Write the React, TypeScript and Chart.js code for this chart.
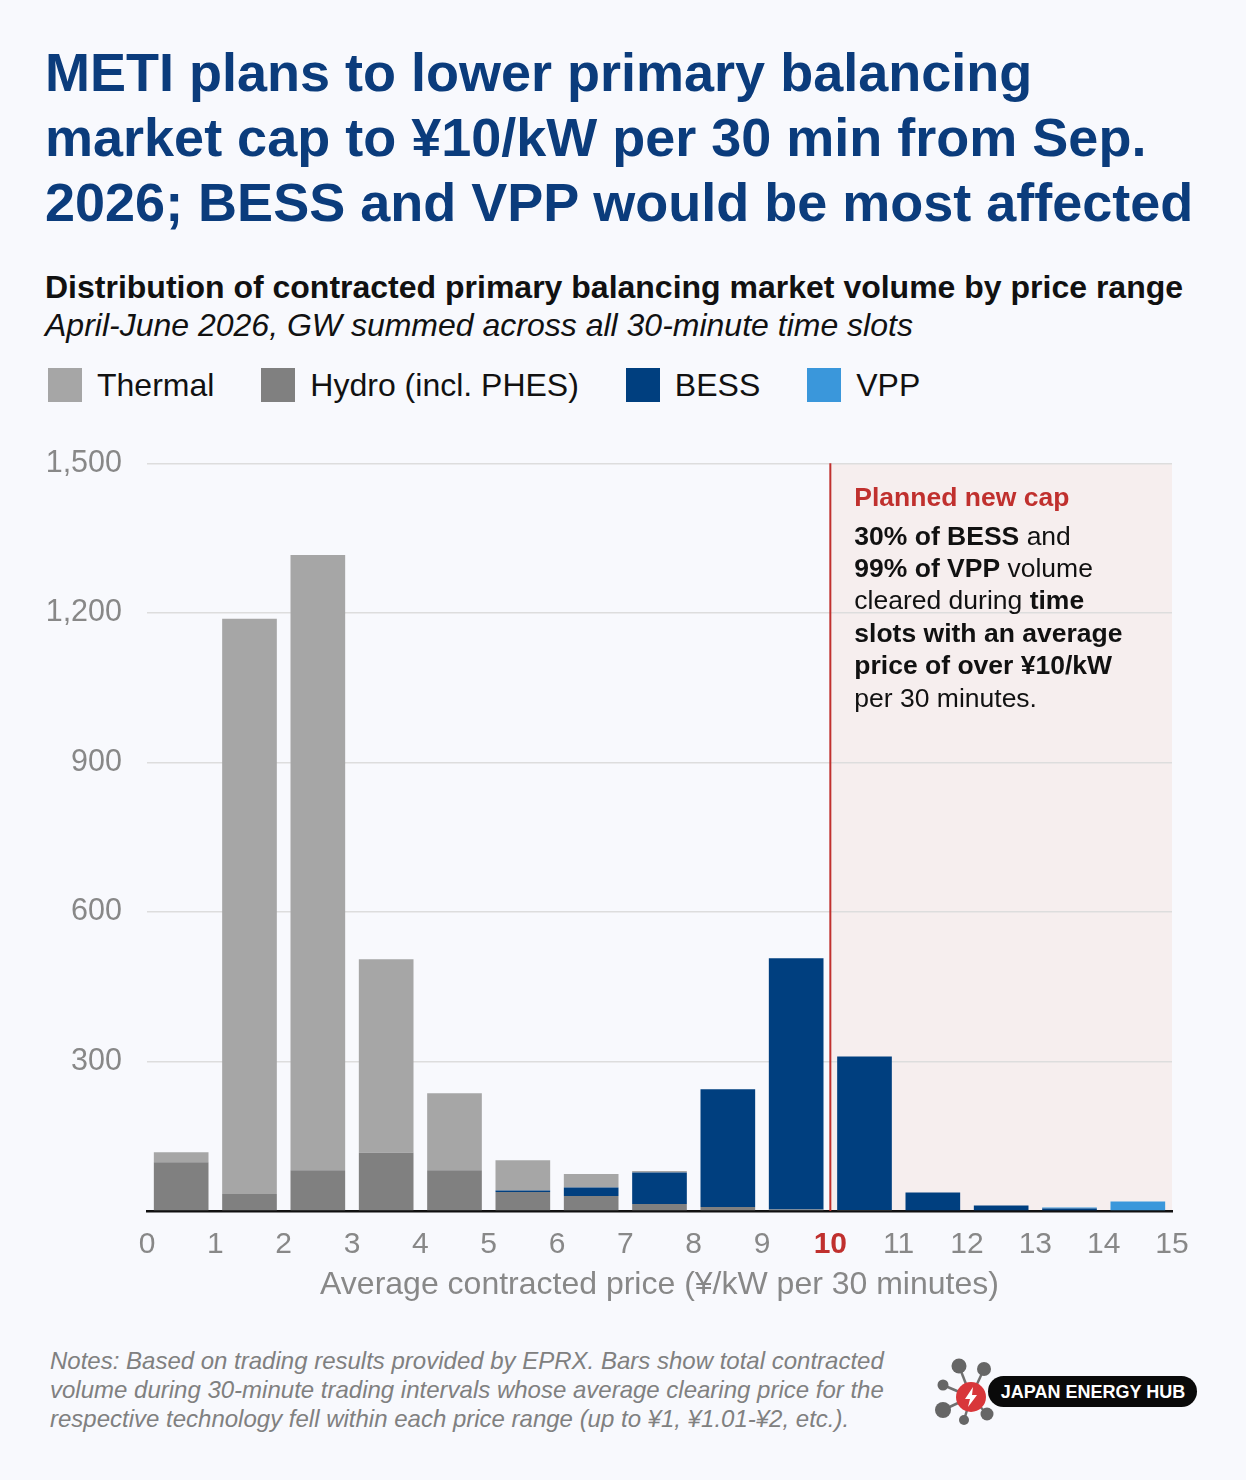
import React, { useEffect, useRef } from 'react';
import { Chart, registerables } from 'chart.js';

Chart.register(...registerables);

const FONT = "'Liberation Sans', Arial, Helvetica, sans-serif";
const RED = '#c0302e';
const GRAY_TEXT = '#888888';

// price ranges (¥/kW per 30 min)
const priceBins = ['0-1', '1-2', '2-3', '3-4', '4-5', '5-6', '6-7', '7-8', '8-9', '9-10', '10-11', '11-12', '12-13', '13-14', '14-15'];

// GW summed across all 30-min slots
const thermal = [20, 1154, 1234, 388, 154, 61, 27, 3, 0, 0, 0, 0, 0, 0, 0];
const hydro = [98, 34, 82, 117, 82, 38, 30, 14, 8, 3, 2, 0, 0, 0, 0];
const bess = [0, 0, 0, 0, 0, 3, 17, 63, 236, 504, 308, 37, 11, 5, 0];
const vpp = [0, 0, 0, 0, 0, 0, 0, 0, 0, 0, 0, 0, 0, 2, 19];

const seriesNames = ['Thermal', 'Hydro (incl. PHES)', 'BESS', 'VPP'];
const seriesColors = ['#a6a6a6', '#808080', '#003f7f', '#3a97db'];

const CAP_PRICE = 10;
const PRICE_MAX = 15;
const Y_MAX = 1500;
const Y_STEP = 300;

type Seg = { text: string; bold?: boolean; color?: string };
const noteLines: Seg[][] = [
  [{ text: '30% of BESS', bold: true }, { text: ' and' }],
  [{ text: '99% of VPP', bold: true }, { text: ' volume' }],
  [{ text: 'cleared during ' }, { text: 'time', bold: true }],
  [{ text: 'slots with an average', bold: true }],
  [{ text: 'price of over ¥10/kW', bold: true }],
  [{ text: 'per 30 minutes.' }],
];

const capPlugin = {
  id: 'capZone',
  beforeDraw(chart: any) {
    const { ctx, chartArea, scales } = chart;
    const x0 = scales.xp.getPixelForValue(CAP_PRICE);
    ctx.save();
    ctx.fillStyle = '#f6eeee';
    ctx.fillRect(x0, chartArea.top, chartArea.right - x0, chartArea.bottom - chartArea.top);
    ctx.restore();
  },
  afterDatasetsDraw(chart: any) {
    const { ctx, chartArea, scales } = chart;
    const x0 = scales.xp.getPixelForValue(CAP_PRICE);
    ctx.save();
    ctx.strokeStyle = RED;
    ctx.lineWidth = 2;
    ctx.beginPath();
    ctx.moveTo(x0, chartArea.top);
    ctx.lineTo(x0, chartArea.bottom);
    ctx.stroke();

    const tx = x0 + 24;
    ctx.textBaseline = 'middle';
    ctx.textAlign = 'left';
    ctx.font = `bold 26.5px ${FONT}`;
    ctx.fillStyle = RED;
    ctx.fillText('Planned new cap', tx, chartArea.top + 35);

    noteLines.forEach((line, i) => {
      let x = tx;
      const y = chartArea.top + 74 + i * 32.4;
      line.forEach((s) => {
        ctx.font = `${s.bold ? 'bold ' : ''}26.5px ${FONT}`;
        ctx.fillStyle = s.color || '#111111';
        ctx.fillText(s.text, x, y);
        x += ctx.measureText(s.text).width;
      });
    });
    ctx.restore();
  },
};

const BalancingChart: React.FC = () => {
  const canvasRef = useRef<HTMLCanvasElement>(null);

  useEffect(() => {
    if (!canvasRef.current) return;
    const ctx = canvasRef.current.getContext('2d');
    if (!ctx) return;

    const chart = new Chart(ctx, {
      type: 'bar',
      data: {
        labels: priceBins,
        datasets: [
          { label: seriesNames[1], data: hydro, backgroundColor: seriesColors[1] },
          { label: seriesNames[2], data: bess, backgroundColor: seriesColors[2] },
          { label: seriesNames[3], data: vpp, backgroundColor: seriesColors[3] },
          { label: seriesNames[0], data: thermal, backgroundColor: seriesColors[0] },
        ],
      },
      options: {
        responsive: false,
        animation: false,
        layout: { padding: { top: 0, right: 74, left: 0, bottom: 0 } },
        datasets: { bar: { categoryPercentage: 1, barPercentage: 0.8, borderWidth: 0 } },
        plugins: { legend: { display: false }, tooltip: { enabled: false } },
        scales: {
          x: { type: 'category', stacked: true, display: false },
          xp: {
            type: 'linear',
            position: 'bottom',
            min: 0,
            max: PRICE_MAX,
            offset: false,
            z: 1,
            afterFit: (s: any) => { s.height = 99; },
            grid: { display: false, offset: false },
            border: { display: true, color: '#111111', width: 2.5 },
            ticks: {
              stepSize: 1,
              autoSkip: false,
              maxRotation: 0,
              padding: 8,
              color: (c: any) => (c.tick && c.tick.value === CAP_PRICE ? RED : GRAY_TEXT),
              font: (c: any) => ({
                family: FONT,
                size: 30,
                weight: c.tick && c.tick.value === CAP_PRICE ? 'bold' : 'normal',
              }),
            },
            title: {
              display: true,
              text: 'Average contracted price (¥/kW per 30 minutes)',
              color: GRAY_TEXT,
              font: { family: FONT, size: 32 },
              padding: { top: 0, bottom: 6 },
            },
          },
          y: {
            stacked: true,
            min: 0,
            max: Y_MAX,
            afterFit: (s: any) => { s.width = 147; },
            grid: { color: '#dddddd', lineWidth: 1.5, drawTicks: false },
            border: { display: false },
            ticks: {
              stepSize: Y_STEP,
              padding: 25,
              color: GRAY_TEXT,
              font: { family: FONT, size: 30.5 },
              callback: (v: any) => (v === 0 ? '' : Number(v).toLocaleString('en-US')),
            },
          },
        },
      } as any,
      plugins: [capPlugin],
    });

    return () => {
      chart.destroy();
    };
  }, []);

  return (
    <canvas
      ref={canvasRef}
      width={1246}
      height={890}
      style={{ position: 'absolute', left: 0, top: 420, width: 1246, height: 890 }}
    />
  );
};

const Logo: React.FC = () => {
  const hubs = [
    [59, 26, 7.5], [84, 29, 7], [43, 45, 5.5], [43, 70, 8], [87, 74, 6.5], [64, 80, 5],
  ];
  return (
    <svg width={320} height={110} style={{ position: 'absolute', left: 900, top: 1340 }}>
      {hubs.map(([x, y, r], i) => (
        <g key={i}>
          <line x1={71} y1={57} x2={x} y2={y} stroke="#707070" strokeWidth={2.5} />
          <circle cx={x} cy={y} r={r} fill="#666666" />
        </g>
      ))}
      <circle cx={71} cy={57} r={15} fill="#d8363a" />
      <path d="M73 47 L65 59 L70 59 L68 67 L77 55 L72 55 Z" fill="#ffffff" />
      <rect x={88} y={36} width={209} height={31} rx={15.5} fill="#0a0a0a" />
      <text
        x={193}
        y={58}
        textAnchor="middle"
        fill="#ffffff"
        fontFamily={FONT}
        fontWeight="bold"
        fontSize={18}
      >
        JAPAN ENERGY HUB
      </text>
    </svg>
  );
};

const App: React.FC = () => {
  return (
    <div
      style={{
        position: 'absolute',
        left: 0,
        top: 0,
        width: 1246,
        height: 1480,
        background: '#f8f9fd',
        fontFamily: FONT,
        overflow: 'hidden',
      }}
    >
      <div
        style={{
          position: 'absolute',
          left: 45,
          top: 40,
          fontSize: 54,
          lineHeight: '65px',
          fontWeight: 'bold',
          color: '#0b3c7c',
          whiteSpace: 'nowrap',
        }}
      >
        METI plans to lower primary balancing
        <br />
        market cap to ¥10/kW per 30 min from Sep.
        <br />
        2026; BESS and VPP would be most affected
      </div>
      <div
        style={{
          position: 'absolute',
          left: 45,
          top: 267,
          fontSize: 32,
          lineHeight: '40px',
          fontWeight: 'bold',
          color: '#111111',
          whiteSpace: 'nowrap',
        }}
      >
        Distribution of contracted primary balancing market volume by price range
      </div>
      <div
        style={{
          position: 'absolute',
          left: 45,
          top: 305,
          fontSize: 32,
          lineHeight: '40px',
          fontStyle: 'italic',
          color: '#111111',
          whiteSpace: 'nowrap',
        }}
      >
        April-June 2026, GW summed across all 30-minute time slots
      </div>
      <div
        style={{
          position: 'absolute',
          left: 48,
          top: 368,
          height: 34,
          display: 'flex',
          alignItems: 'center',
          gap: 47,
        }}
      >
        {seriesNames.map((name, i) => (
          <div key={name} style={{ display: 'flex', alignItems: 'center' }}>
            <span style={{ width: 34, height: 34, background: seriesColors[i], display: 'inline-block' }} />
            <span style={{ marginLeft: 15, fontSize: 32, color: '#111111', whiteSpace: 'nowrap' }}>{name}</span>
          </div>
        ))}
      </div>
      <BalancingChart />
      <div
        style={{
          position: 'absolute',
          left: 50,
          top: 1346,
          fontSize: 24,
          lineHeight: '29px',
          fontStyle: 'italic',
          color: '#808080',
          whiteSpace: 'nowrap',
        }}
      >
        Notes: Based on trading results provided by EPRX. Bars show total contracted
        <br />
        volume during 30-minute trading intervals whose average clearing price for the
        <br />
        respective technology fell within each price range (up to ¥1, ¥1.01-¥2, etc.).
      </div>
      <Logo />
    </div>
  );
};

export default App;
